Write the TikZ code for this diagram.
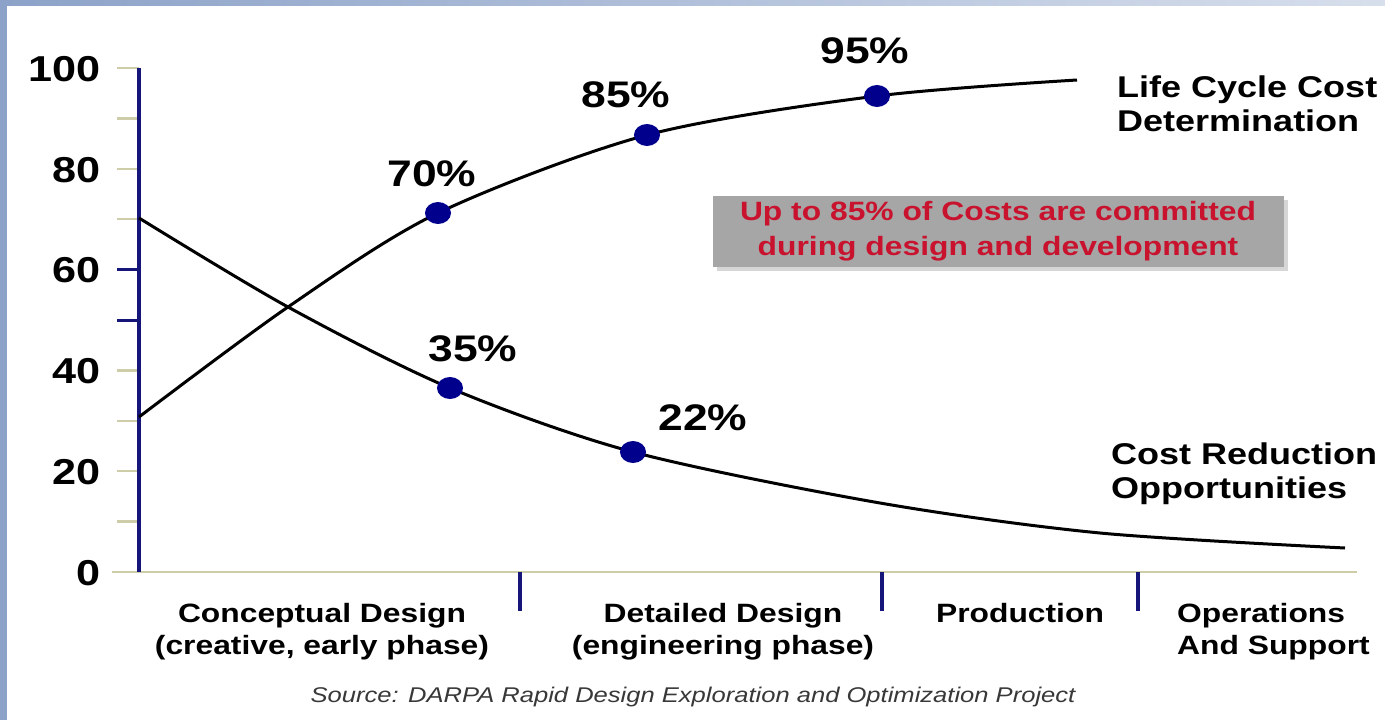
\documentclass[tikz,border=0pt]{standalone}
\usepackage{fontspec}
\setmainfont{Liberation Sans}
\newfontfamily\bsf[FakeStretch=1.2]{Liberation Sans}
\newfontfamily\ssf[FakeStretch=1.2]{Liberation Sans}
\usetikzlibrary{shapes.geometric,shadows}
\definecolor{navy}{RGB}{22,22,122}
\definecolor{dotblue}{RGB}{0,0,140}
\definecolor{baseol}{RGB}{205,205,170}
\definecolor{bordblue}{RGB}{140,162,200}
\definecolor{noteRed}{RGB}{200,18,46}
\definecolor{noteGray}{RGB}{166,166,166}
\tikzset{
  axnum/.style={font=\bsf\bfseries\fontsize{36}{36}\selectfont, anchor=east, inner sep=0pt},
  pct/.style={font=\bsf\bfseries\fontsize{37}{37}\selectfont, inner sep=0pt},
  side/.style={font=\bsf\bfseries\fontsize{30}{34}\selectfont, align=left, anchor=west, inner sep=0pt},
  phase/.style={font=\bsf\bfseries\fontsize{26.5}{32}\selectfont, align=center, inner sep=0pt},
  phaseL/.style={font=\bsf\bfseries\fontsize{26.5}{32}\selectfont, align=left, anchor=west, inner sep=0pt},
  curve/.style={line width=3pt, black},
  dot/.style={ellipse, fill=dotblue, inner sep=0pt, minimum width=26pt, minimum height=22pt},
  note/.style={fill=noteGray, text=noteRed, font=\bsf\bfseries\fontsize{26.5}{35}\selectfont,
    align=center, minimum width=571pt, minimum height=71pt, inner sep=0pt,
    drop shadow={shadow xshift=4pt, shadow yshift=-4pt, fill=black!16, opacity=1}},
  src/.style={font=\ssf\itshape\fontsize{21.3}{24}\selectfont, text=black!78, inner sep=0pt},
  tickl/.style={baseol, line width=2.5pt},
  divider/.style={navy, line width=4pt}
}
\begin{document}
\begin{tikzpicture}[x=1pt,y=-1pt]
\useasboundingbox (0,0) rectangle (1385,720);
\fill[white] (0,0) rectangle (1385,720);
\fill[bordblue] (0,0) rectangle (7,720);
\shade[left color=bordblue, right color=bordblue!35] (0,0) rectangle (1385,5);
% axes
\coordinate (xl) at (112,572);
\coordinate (xr) at (1357,572);
\draw[tickl] (xl) -- (xr);
\foreach \v in {10,20,...,100} \draw[tickl] (117,{572-5.04*\v}) -- (139,{572-5.04*\v});
\foreach \v in {50,60} \draw[navy, line width=3pt] (117,{572-5.04*\v}) -- (139,{572-5.04*\v});
\coordinate (ytop) at (139,68);
\coordinate (ybot) at (139,572);
\draw[navy, line width=4pt] (ytop) -- (ybot);
\foreach \x in {520,882,1138} \draw[divider] (\x,572) -- (\x,611);
\foreach \v in {0,20,...,100} \node[axnum] (ax\v) at (101,{573-5.04*\v}) {\v};
% curve points
\coordinate (L0) at (139,417);
\coordinate (X) at (288,307);
\coordinate (p70) at (438,213);
\coordinate (p85) at (647,135);
\coordinate (p95) at (877,96);
\coordinate (L5) at (1077,80);
\coordinate (C0) at (139,218);
\coordinate (p35) at (450,388);
\coordinate (p22) at (633,452);
\coordinate (C3) at (880,503);
\coordinate (C4) at (1100,533);
\coordinate (C5) at (1345,548);
\draw[curve] plot[smooth] coordinates {(L0) (X) (p70) (p85) (p95) (L5)};
\draw[curve] plot[smooth] coordinates {(C0) (X) (p35) (p22) (C3) (C4) (C5)};
\node[dot] (d70) at (p70) {};
\node[dot] (d85) at (p85) {};
\node[dot] (d95) at (p95) {};
\node[dot] (d35) at (p35) {};
\node[dot] (d22) at (p22) {};
% percent labels
\node[pct] (t70) at (432,174) {70\%};
\node[pct] (t85) at (626,95) {85\%};
\node[pct] (t95) at (865,51) {95\%};
\node[pct] (t35) at (473,349) {35\%};
\node[pct] (t22) at (703,418) {22\%};
% side labels
\node[side] (lcc) at (1117,104) {Life Cycle Cost\\Determination};
\node[side] (cro) at (1111,474) {Cost Reduction\\Opportunities};
% note
\node[note] (note) at (998,231) {Up to 85\% of Costs are committed\\during design and development};
% phases
\node[phase] (ph1) at (322,632) {Conceptual Design\\(creative, early phase)};
\node[phase] (ph2) at (723,632) {Detailed Design\\(engineering phase)};
\node[phase, anchor=base] (ph3) at (1020,622) {Production};
\node[phaseL] (ph4) at (1177,632) {Operations\\And Support};
% source
\node[src] (srcn) at (693,697) {Source: DARPA Rapid Design Exploration and Optimization Project};
\end{tikzpicture}
\end{document}
